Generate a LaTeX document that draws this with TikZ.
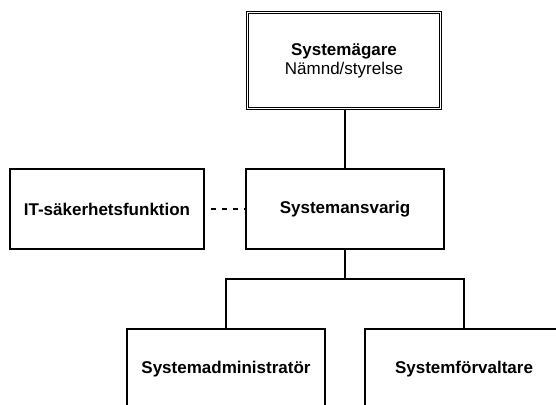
\documentclass[tikz,border=0pt]{standalone}
\usepackage{fontspec}
\setmainfont{Liberation Sans}
\begin{document}
\begin{tikzpicture}[x=1pt,y=1pt,
  box/.style={draw=black, line width=1.8pt, rectangle, minimum width=198pt, minimum height=80pt, inner sep=0pt, align=center, font=\fontsize{17}{20}\selectfont\bfseries},
  link/.style={draw=black, line width=1.8pt},
  dotlink/.style={draw=black, line width=1.8pt, dash pattern=on 5pt off 6pt, dash phase=5pt}]
\useasboundingbox (0,0) rectangle (556,404);
\clip (0,0) rectangle (556,404);
\node[box, minimum width=193pt, minimum height=96pt, line width=1.2pt, double, double distance=1.4pt] (owner) at (344,343.5) {Systemägare\\[-1pt]{\mdseries Nämnd/styrelse}};
\node[box] (resp) at (345,195) {Systemansvarig};
\node[box, minimum width=194pt] (itsec) at (107,195) {IT-säkerhetsfunktion};
\node[box] (admin) at (226,35) {Systemadministratör};
\node[box] (mgmt) at (464,35) {Systemförvaltare};
\coordinate (j) at (345,125);
\draw[link] (resp.north) -- (resp.north |- owner.south);
\draw[dotlink] (itsec.east) -- (resp.west);
\draw[link] (resp.south) -- (j);
\draw[link] (admin.north) |- (j);
\draw[link] (mgmt.north) |- (j);
\end{tikzpicture}
\end{document}
